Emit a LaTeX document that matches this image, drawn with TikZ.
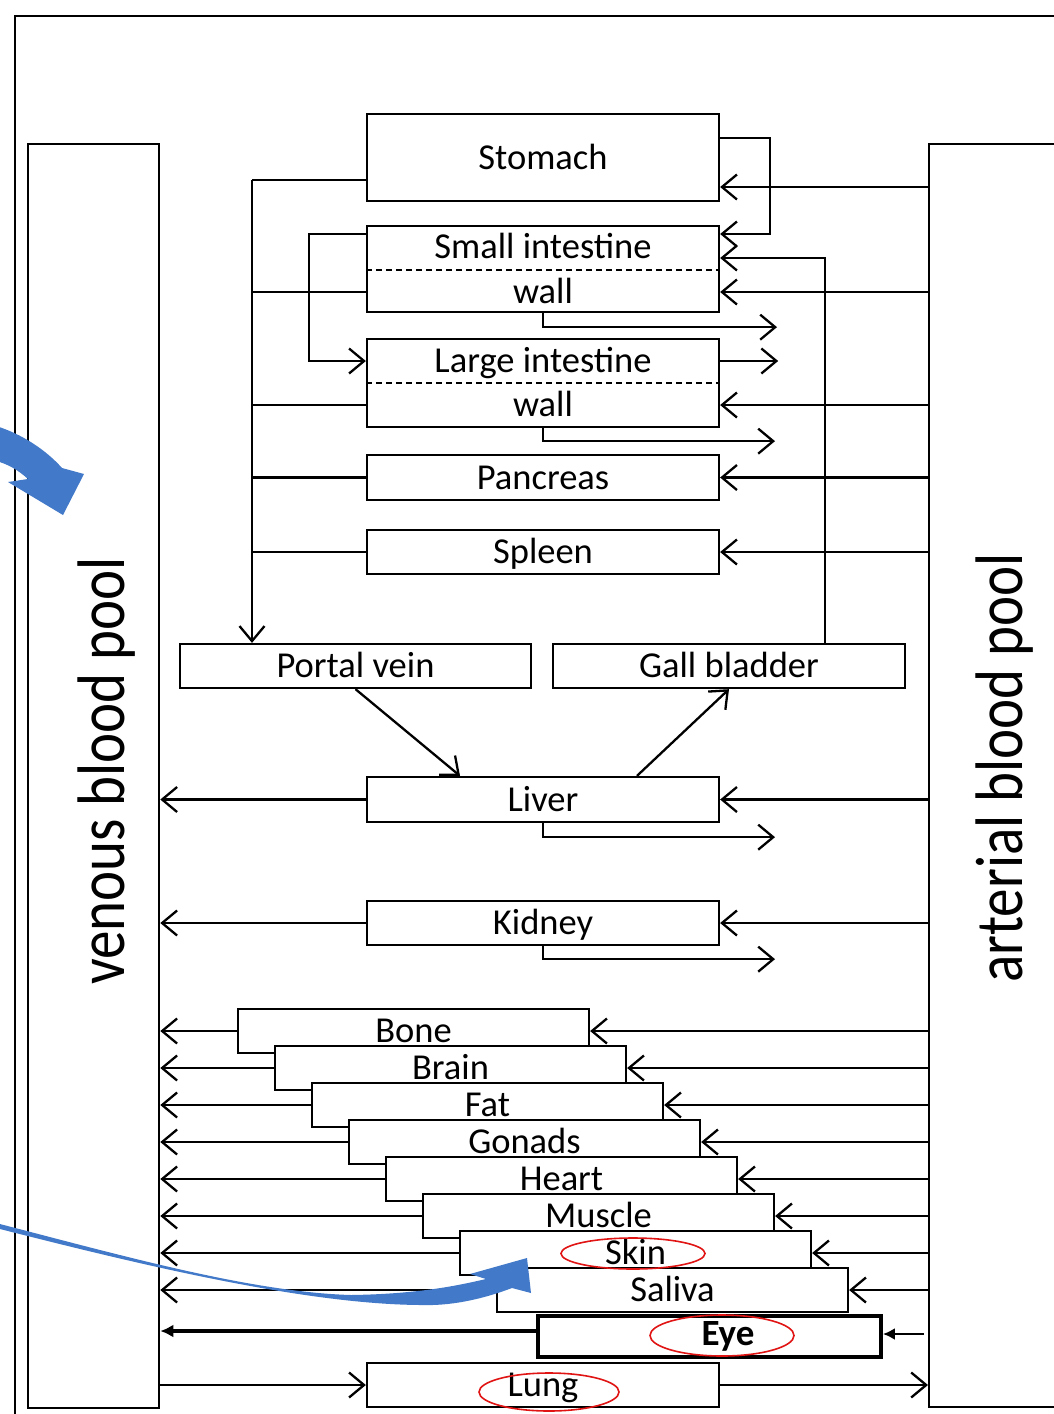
\documentclass[tikz,border=0pt]{standalone}
\usepackage{fontspec}
\setmainfont{Carlito}
\usetikzlibrary{arrows.meta}
\definecolor{pptblue}{RGB}{66,121,200}
\definecolor{markred}{RGB}{225,20,20}
\begin{document}
\begin{tikzpicture}[x=1pt,y=-1pt,
  lw/.style={line width=2.3pt},
  organfont/.style={font=\fontsize{36.5pt}{40pt}\selectfont, text height=23.5pt, text depth=0pt},
  organ/.style={draw, lw, fill=white, inner sep=0pt, minimum width=352pt, minimum height=44pt, organfont},
  lbl/.style={inner sep=0pt, organfont},
  pool/.style={rotate=90, inner sep=0pt, anchor=base west, font=\fontsize{57pt}{60pt}\selectfont},
  pipe/.style={lw},
  flow/.style={lw, -{Straight Barb[length=15pt,width=25pt,line width=2.3pt]}},
  solidflow/.style={-{Latex[length=13pt,width=13pt]}},
  ring/.style={draw=markred, line width=1.6pt},
]
\useasboundingbox (0,0) rectangle (1054,1414);
\clip (0,0) rectangle (1054,1414);
\fill[white] (0,0) rectangle (1054,1414);

% outer frame
\draw[line width=2.8pt] (15,1440) -- (15,16) -- (1080,16);

% blood pools
\node[draw, lw, anchor=north west, inner sep=0pt, minimum width=131pt, minimum height=1264pt] (ven) at (27,143) {};
\node[draw, lw, anchor=north west, inner sep=0pt, minimum width=170pt, minimum height=1263pt] (art) at (928,143) {};
\node[pool] (venlbl) at (124,985) {\scalebox{1}[1.18]{venous blood pool}};
\node[pool] (artlbl) at (1022,983) {\scalebox{1}[1.18]{arterial blood pool}};

% gut organs
\node[organ, minimum height=87pt] (stomach) at (543,157.5) {Stomach};
\node[organ, minimum height=86pt] (si) at (543,269) {};
\draw[lw, dashed, dash pattern=on 6pt off 4pt] (si.west |- 0,270) -- (si.east |- 0,270);
\node[lbl] (sitop) at (543,247) {Small intestine};
\node[lbl] (siwall) at (543,292) {wall};
\node[organ, minimum height=88pt] (li) at (543,383) {};
\draw[lw, dashed, dash pattern=on 6pt off 4pt] (li.west |- 0,383) -- (li.east |- 0,383);
\node[lbl] (litop) at (543,361) {Large intestine};
\node[lbl] (liwall) at (543,405) {wall};
\node[organ, minimum height=45pt] (pancreas) at (543,477.5) {Pancreas};
\node[organ] (spleen) at (543,552) {Spleen};
\node[organ, minimum width=351pt] (portal) at (355.5,666) {Portal vein};
\node[organ] (gall) at (729,666) {Gall bladder};
\node[organ, minimum height=45pt] (liver) at (543,799.5) {Liver};
\node[organ] (kidney) at (543,923) {Kidney};

% junction points of the gut circulation
\coordinate (colTop) at (252,180);
\coordinate (loopL) at (309,234);
\coordinate (loopR) at (770,138);
\coordinate (yRec) at (0,234);
\coordinate (bile) at (825,258);
\coordinate (yStIn) at (0,187);

% portal collector on the venous side
\draw[pipe] (stomach.west |- colTop) -- (colTop);
\draw[flow] (colTop) -- (colTop |- portal.north);
\draw[pipe] (si.west |- siwall) -- (colTop |- siwall);
\draw[pipe] (li.west |- liwall) -- (colTop |- liwall);
\draw[pipe] (pancreas.west) -- (colTop |- pancreas.west);
\draw[pipe] (spleen.west) -- (colTop |- spleen.west);
\draw[flow] (si.west |- loopL) -- (loopL) -- (loopL |- litop) -- (li.west |- litop);

% lumen transfers and arterial supply on the right
\draw[flow] (stomach.east |- loopR) -- (loopR) -- (loopR |- yRec) -- (si.east |- yRec);
\draw[flow] (bile |- gall.north) -- (bile) -- (si.east |- bile);
\draw[flow] (art.west |- yStIn) -- (stomach.east |- yStIn);
\draw[flow] (art.west |- siwall) -- (si.east |- siwall);
\draw[flow] (si.south) -- ++(0,14) -- ++(234,0);
\draw[flow] (li.east |- litop) -- ++(58,0);
\draw[flow] (art.west |- liwall) -- (li.east |- liwall);
\draw[flow] (li.south) -- ++(0,13) -- ++(232,0);
\draw[flow] (art.west |- pancreas.east) -- (pancreas.east);
\draw[flow] (art.west |- spleen.east) -- (spleen.east);

% liver and kidney
\draw[flow] (portal.south) -- ([xshift=-83pt]liver.north);
\draw[flow] ([xshift=94pt]liver.north) -- (gall.south);
\draw[flow] (liver.west) -- (ven.east |- liver.west);
\draw[flow] (art.west |- liver.east) -- (liver.east);
\draw[flow] (liver.south) -- ++(0,14) -- ++(232,0);
\draw[flow] (kidney.west) -- (ven.east |- kidney.west);
\draw[flow] (art.west |- kidney.east) -- (kidney.east);
\draw[flow] (kidney.south) -- ++(0,13) -- ++(232,0);

% staircase of peripheral tissues
\foreach \n/\t [count=\i from 0] in {bone/Bone, brain/Brain, fat/Fat, gonads/Gonads, heart/Heart, muscle/Muscle, skin/Skin, saliva/Saliva} {
  \node[organ, minimum width=351pt] (\n) at (413.5+37*\i, 1031+37*\i) {\t};
  \draw[flow] (\n.west) -- (ven.east |- \n.west);
  \draw[flow] (art.west |- \n.east) -- (\n.east);
}

% eye
\coordinate (yEyeOut) at (0,1331);
\coordinate (eyeIn) at (924,1334);
\node[draw, line width=3.8pt, fill=white, inner sep=0pt, minimum width=343pt, minimum height=41pt] (eye) at (709.5,1336.5) {};
\node[lbl, font=\fontsize{37pt}{40pt}\selectfont\bfseries] (eyetxt) at (728,1334) {Eye};
\draw[line width=3.2pt, solidflow] (eye.west |- yEyeOut) -- (ven.east |- yEyeOut);
\draw[lw, -{Latex[length=12pt,width=12pt]}] (eyeIn) -- (eye.east |- eyeIn);

% lung
\node[organ] (lung) at (543,1385) {Lung};
\draw[flow] (ven.east |- lung.west) -- (lung.west);
\draw[flow] (lung.east) -- (art.west |- lung.east);

% red markings
\draw[ring] (633,1253.5) ellipse [x radius=72, y radius=15.5];
\draw[ring] (722,1335.5) ellipse [x radius=72, y radius=20.5];
\draw[ring] (549,1392) ellipse [x radius=70, y radius=19];

% blue pointers
\fill[pptblue] (-4,426) .. controls (22,434) and (46,450) .. (62,468)
  -- (84,474) -- (63,515) -- (8,482) -- (28,479)
  .. controls (18,470) and (8,464) .. (-4,461) -- cycle;
\fill[pptblue] (-4,1223) .. controls (120,1255) and (250,1292) .. (351,1295)
  .. controls (420,1294) and (460,1285) .. (486,1279)
  -- (470,1274) -- (527,1258) -- (531,1293) -- (512,1288)
  .. controls (480,1300) and (450,1306) .. (420,1305)
  .. controls (300,1304) and (130,1262) .. (-4,1228) -- cycle;
\end{tikzpicture}
\end{document}
